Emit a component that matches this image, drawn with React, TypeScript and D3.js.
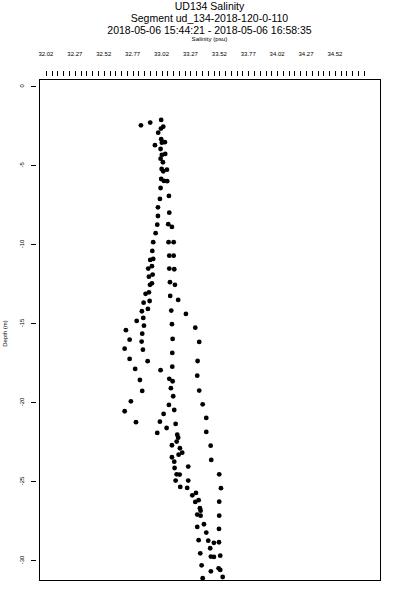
import React, { useEffect, useRef } from 'react';
import * as d3 from 'd3';

// salinity (psu) and depth (m) per sample
const salinity = [
  32.842, 32.922, 33.017, 33.035, 33.015, 32.991, 33.017, 33.049, 33.023, 32.963,
  33.012, 33.052, 33.023, 33.012, 33.032, 33.021, 33.067, 33.035, 33.017, 33.069,
  33.041, 33.012, 33.084, 33.006, 32.989, 33.087, 32.989, 32.983, 33.078, 33.110,
  32.969, 32.948, 33.081, 33.125, 32.940, 33.087, 33.125, 32.922, 32.948, 32.937,
  32.905, 33.087, 33.130, 32.911, 32.943, 32.920, 32.937, 33.093, 33.136, 32.882,
  32.911, 33.095, 33.164, 32.865, 32.917, 33.104, 32.850, 32.902, 33.231, 32.805,
  32.862, 33.110, 32.868, 33.312, 32.712, 32.853, 32.744, 33.116, 32.848, 33.346,
  32.701, 32.859, 33.113, 33.332, 32.744, 32.900, 32.792, 33.012, 33.113, 33.329,
  32.833, 33.087, 33.116, 32.853, 33.101, 33.346, 33.121, 32.755, 33.376, 33.084,
  32.701, 33.130, 33.038, 33.407, 32.799, 33.006, 33.142, 33.064, 32.983, 33.156,
  33.164, 33.407, 33.151, 33.110, 33.445, 33.179, 33.199, 33.168, 33.110, 33.130,
  33.450, 33.251, 33.133, 33.151, 33.177, 33.519, 33.142, 33.251, 33.182, 33.242,
  33.534, 33.318, 33.286, 33.341, 33.312, 33.519, 33.352, 33.358, 33.329, 33.358,
  33.519, 33.387, 33.329, 33.517, 33.407, 33.341, 33.424, 33.473, 33.517, 33.441,
  33.355, 33.447, 33.473, 33.528, 33.367, 33.447, 33.514, 33.528, 33.376, 33.549,
];
const depth = [
  -2.49, -2.32, -2.15, -2.58, -2.70, -2.96, -3.37, -3.56, -3.59, -3.75,
  -3.99, -4.30, -4.37, -4.60, -4.83, -5.25, -5.30, -5.40, -5.89, -6.03,
  -6.01, -6.46, -6.96, -7.15, -7.68, -8.02, -8.23, -8.78, -8.75, -8.92,
  -9.32, -9.89, -9.89, -9.89, -10.44, -10.74, -10.74, -11.01, -10.95, -11.41,
  -11.56, -11.56, -11.60, -12.07, -11.94, -12.59, -12.49, -12.42, -12.59, -13.16,
  -13.06, -13.29, -13.54, -13.72, -13.61, -14.22, -14.26, -14.11, -14.43, -14.87,
  -14.68, -15.08, -15.17, -15.30, -15.46, -15.68, -16.06, -16.01, -16.18, -16.20,
  -16.63, -16.69, -16.90, -17.41, -17.28, -17.42, -17.91, -17.99, -17.77, -18.34,
  -18.61, -18.54, -18.69, -19.30, -19.13, -19.28, -19.64, -19.96, -20.15, -20.19,
  -20.59, -20.51, -20.76, -21.01, -21.28, -21.25, -21.39, -21.65, -21.96, -22.07,
  -22.26, -21.90, -22.51, -22.74, -22.77, -22.93, -23.21, -23.34, -23.50, -23.78,
  -23.67, -24.09, -24.18, -24.58, -24.60, -24.58, -24.98, -24.98, -25.38, -25.44,
  -25.46, -25.76, -25.91, -26.22, -26.33, -26.31, -26.73, -26.88, -27.13, -27.20,
  -27.20, -27.74, -27.91, -28.04, -28.27, -28.75, -28.78, -28.92, -28.88, -29.26,
  -29.58, -29.79, -29.81, -29.73, -30.34, -30.72, -30.53, -30.63, -31.16, -31.08,
];

const salinityTicks = [32.02, 32.27, 32.52, 32.77, 33.02, 33.27, 33.52, 33.77, 34.02, 34.27, 34.52];
const depthTicks = [0, -5, -10, -15, -20, -25, -30];
const titleLines = [
  'UD134 Salinity',
  'Segment ud_134-2018-120-0-110',
  '2018-05-06 15:44:21 - 2018-05-06 16:58:35',
];

const App = () => {
  const ref = useRef<SVGSVGElement>(null);

  useEffect(() => {
    document.body.style.margin = '0';
    const width = 400;
    const height = 600;
    const left = 39;
    const right = 380;
    const top = 79;
    const bottom = 580;
    const font = 'Liberation Sans, Arial, Helvetica, sans-serif';

    const svg = d3.select(ref.current);
    svg.selectAll('*').remove();
    svg.attr('width', width).attr('height', height);

    const x = d3.scaleLinear().domain([31.96, 34.91]).range([left, right]);
    const y = d3.scaleLinear().domain([0.44, -31.27]).range([top, bottom]);

    // titles
    titleLines.forEach((t, i) => {
      svg.append('text')
        .attr('x', 209.5)
        .attr('y', 10 + i * 11.8)
        .attr('text-anchor', 'middle')
        .attr('font-family', font)
        .attr('font-size', 10.5)
        .text(t);
    });

    svg.append('text')
      .attr('x', 209.5)
      .attr('y', 40.5)
      .attr('text-anchor', 'middle')
      .attr('font-family', font)
      .attr('font-size', 6.2)
      .text('Salinity (psu)');

    // top axis: labels every 0.25, small ticks every 0.05
    svg.append('g')
      .selectAll('text')
      .data(salinityTicks)
      .join('text')
      .attr('x', d => x(d))
      .attr('y', 56)
      .attr('text-anchor', 'middle')
      .attr('font-family', font)
      .attr('font-size', 6)
      .text(d => d.toFixed(2));

    const minor = d3.range(0, 56).map(i => 32.02 + i * 0.05);
    svg.append('g')
      .selectAll('line')
      .data(minor)
      .join('line')
      .attr('x1', d => Math.round(x(d)) + 0.5)
      .attr('x2', d => Math.round(x(d)) + 0.5)
      .attr('y1', 71)
      .attr('y2', 75.5)
      .attr('stroke', 'black')
      .attr('stroke-width', 1)
      .attr('shape-rendering', 'crispEdges');

    // left axis
    const ya = svg.append('g');
    ya.selectAll('line')
      .data(depthTicks)
      .join('line')
      .attr('x1', 31)
      .attr('x2', 35.5)
      .attr('y1', d => Math.round(y(d)) + 0.5)
      .attr('y2', d => Math.round(y(d)) + 0.5)
      .attr('stroke', 'black')
      .attr('shape-rendering', 'crispEdges');
    ya.selectAll('text')
      .data(depthTicks)
      .join('text')
      .attr('transform', d => `translate(24,${y(d)}) rotate(-90)`)
      .attr('text-anchor', 'middle')
      .attr('font-family', font)
      .attr('font-size', 6)
      .text(d => String(d));

    svg.append('text')
      .attr('transform', `translate(7,${(top + bottom) / 2 + 4}) rotate(-90)`)
      .attr('text-anchor', 'middle')
      .attr('font-family', font)
      .attr('font-size', 6)
      .text('Depth (m)');

    // frame
    svg.append('rect')
      .attr('x', left + 0.5)
      .attr('y', top + 0.5)
      .attr('width', right - left)
      .attr('height', bottom - top)
      .attr('fill', 'none')
      .attr('stroke', 'black')
      .attr('shape-rendering', 'crispEdges');

    // samples
    svg.append('g')
      .selectAll('circle')
      .data(salinity.map((s, i) => ({ s, d: depth[i] })))
      .join('circle')
      .attr('cx', d => x(d.s))
      .attr('cy', d => y(d.d))
      .attr('r', 2.4)
      .attr('fill', 'black');
  }, []);

  return <svg ref={ref} style={{ display: 'block' }}></svg>;
};

export default App;
